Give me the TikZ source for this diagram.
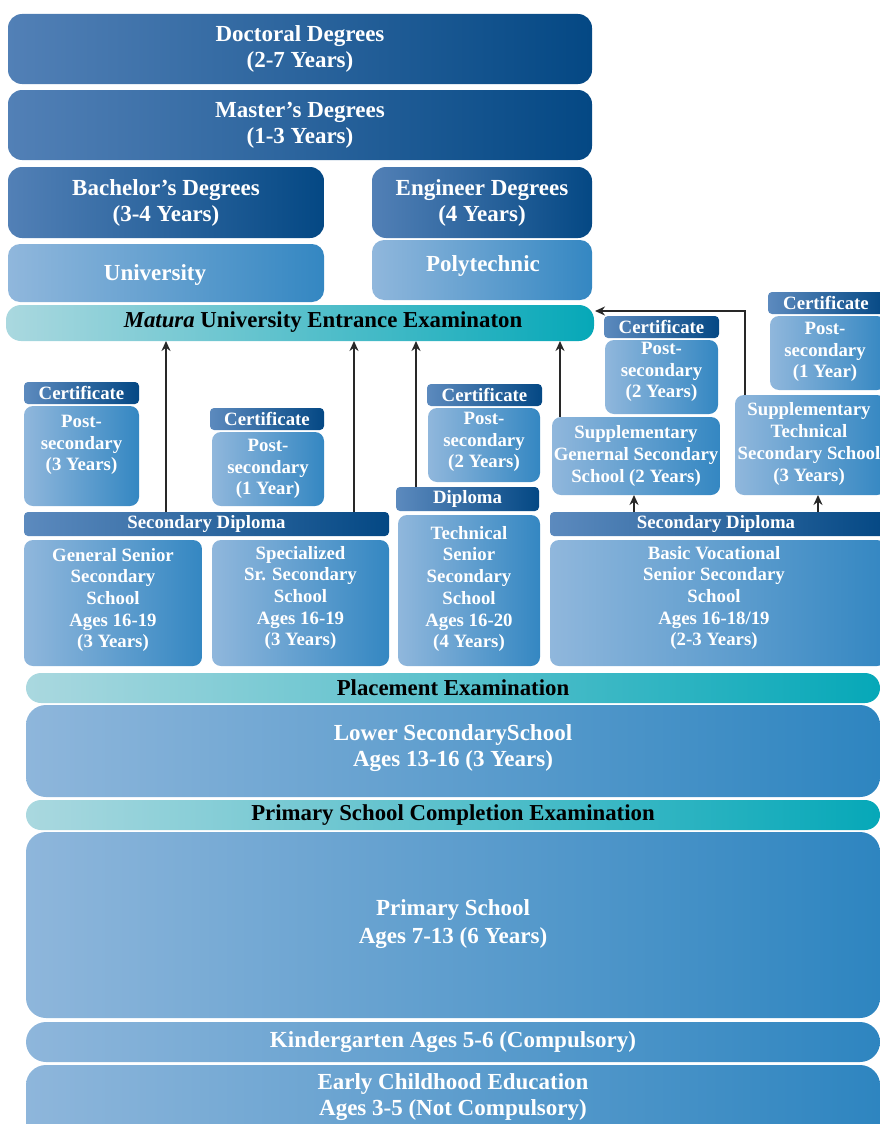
\documentclass[tikz,border=0pt]{standalone}
\usepackage{fontspec}
\setmainfont{Liberation Serif}
\usetikzlibrary{arrows.meta}

% gradient end colours
\definecolor{deepL}{RGB}{82,128,182}
\definecolor{deepR}{RGB}{4,72,132}
\definecolor{tagL}{RGB}{92,138,190}
\definecolor{midL}{RGB}{144,183,220}
\definecolor{midR}{RGB}{52,135,194}
\definecolor{tealL}{RGB}{170,216,223}
\definecolor{tealR}{RGB}{6,168,184}
\definecolor{lowL}{RGB}{142,182,219}
\definecolor{lowR}{RGB}{46,133,192}
\definecolor{wire}{RGB}{40,40,40}

\tikzset{
  base/.style={inner sep=1pt, outer sep=0pt, align=center, text=white},
  degree/.style={base, rounded corners=14pt, left color=deepL, right color=deepR,
    font=\bfseries\fontsize{23}{26}\selectfont},
  school/.style={base, rounded corners=12pt, left color=midL, right color=midR,
    font=\bfseries\fontsize{23}{26}\selectfont},
  tag/.style={base, rounded corners=4pt, left color=tagL, right color=deepR,
    font=\bfseries\fontsize{18.8}{21}\selectfont},
  card/.style={base, rounded corners=9pt, left color=midL, right color=midR,
    font=\bfseries\fontsize{18.8}{21.7}\selectfont},
  cardtext/.style={align=center, text=white, inner sep=0pt,
    font=\bfseries\fontsize{18.8}{21.7}\selectfont},
  tagtext/.style={cardtext, font=\bfseries\fontsize{18.8}{21}\selectfont},
  bigtext/.style={cardtext, font=\bfseries\fontsize{23}{25.5}\selectfont},
  exam/.style={base, rounded corners=15pt, left color=tealL, right color=tealR,
    text=black, font=\bfseries\fontsize{22.8}{25}\selectfont},
  stage/.style={base, rounded corners=20pt, left color=lowL, right color=lowR,
    font=\bfseries\fontsize{23}{25}\selectfont},
  arr/.style={draw=wire, line width=1.8pt, -{Stealth[length=10pt,width=9pt]}},
}

% \blk{style}{x1}{y1}{x2}{y2}{name}{text}: box spanning the given corners
\newcommand\blk[7]{%
  \node[#1, minimum width={(#4)-(#2)}, minimum height={(#5)-(#3)}]
    (#6) at ({((#2)+(#4))/2},{((#3)+(#5))/2}) {#7};}

\begin{document}
\begin{tikzpicture}[x=1pt, y=-1pt]
\useasboundingbox (0,0) rectangle (880,1124);
\clip (0,0) rectangle (880,1124);

% ---- higher education
\blk{degree}{8}{14}{592}{84}{doc}{Doctoral Degrees\\(2-7 Years)}
\blk{degree}{8}{90}{592}{160}{mas}{Master’s Degrees\\(1-3 Years)}
\blk{degree}{8}{167}{324}{238}{bach}{Bachelor’s Degrees\\(3-4 Years)}
\blk{degree}{372}{167}{592}{238}{eng}{Engineer Degrees\\(4 Years)}
\blk{school}{8}{244}{324}{302}{uni}{}
\node[bigtext] at (155,275) {University};
\blk{school}{372}{240}{592}{300}{poly}{}
\node[bigtext] at (483,266) {Polytechnic};
\blk{exam}{6}{305}{594}{341}{matura}{}
\node[cardtext, text=black, font=\bfseries\fontsize{22.8}{25}\selectfont]
  at (323,322) {\textit{Matura} University Entrance Examinaton};

% ---- post-secondary certificates
\blk{tag}{24}{382}{139}{404}{c1}{Certificate}
\blk{card}{24}{406}{139}{506}{ps1}{}
\node[cardtext] at (81.5,445) {Post-\\secondary\\(3 Years)};
\blk{tag}{210}{408}{324}{430}{c2}{Certificate}
\blk{card}{212}{432}{324}{506}{ps2}{Post-\\secondary\\(1 Year)}
\blk{tag}{427}{384}{542}{406}{c3}{Certificate}
\blk{card}{428}{408}{540}{482}{ps3}{}
\node[cardtext] at (484,442) {Post-\\secondary\\(2 Years)};
\blk{tag}{604}{316}{719}{338}{c4}{Certificate}
\blk{card}{605}{340}{718}{414}{ps4}{}
\node[cardtext] at (661.5,372) {Post-\\secondary\\(2 Years)};
\blk{tag}{768}{292}{886}{314}{c5}{}
\node[tagtext] at (826,303) {Certificate};
\blk{card}{770}{316}{886}{390}{ps5}{}
\node[cardtext] at (825,352) {Post-\\secondary\\(1 Year)};

% ---- supplementary schools
\blk{card}{552}{417}{720}{495}{sg}{Supplementary\\Genernal Secondary\\School (2 Years)}
\blk{card}{735}{395}{886}{495}{st}{}
\node[cardtext] at (809,444) {Supplementary\\Technical\\Secondary School\\(3 Years)};

% ---- senior secondary
\blk{tag}{396}{487}{539}{511}{dip}{Diploma}
\blk{tag}{24}{512}{389}{536}{sdl}{Secondary Diploma}
\blk{tag}{550}{512}{886}{536}{sdr}{}
\node[tagtext] at (716,524) {Secondary Diploma};
\blk{card}{24}{540}{202}{666}{gs}{}
\node[cardtext] at (113,600) {General Senior\\Secondary\\School\\Ages 16-19\\(3 Years)};
\blk{card}{212}{540}{389}{666}{sp}{}
\node[cardtext] at (300.5,598) {Specialized\\Sr. Secondary\\School\\Ages 16-19\\(3 Years)};
\blk{card}{398}{515}{540}{666}{ts}{}
\node[cardtext] at (469,589) {Technical\\Senior\\Secondary\\School\\Ages 16-20\\(4 Years)};
\blk{card}{550}{540}{886}{666}{bv}{}
\node[cardtext] at (714,598) {Basic Vocational\\Senior Secondary\\School\\Ages 16-18/19\\(2-3 Years)};

% ---- lower levels
\blk{exam}{26}{673}{880}{703}{place}{Placement Examination}
\blk{stage}{26}{705}{880}{797}{lower}{}
\node[bigtext] at (453,748) {Lower SecondarySchool\\Ages 13-16 (3 Years)};
\blk{exam}{26}{800}{880}{830}{pce}{Primary School Completion Examination}
\blk{stage}{26}{832}{880}{1018}{prim}{}
\node[bigtext, font=\bfseries\fontsize{23}{28}\selectfont] at (453,924) {Primary School\\Ages 7-13 (6 Years)};
\blk{stage}{26}{1022}{880}{1062}{kind}{Kindergarten Ages 5-6 (Compulsory)}
\blk{stage}{26}{1065}{880}{1150}{early}{}
\node[bigtext] at (453,1097) {Early Childhood Education\\Ages 3-5 (Not Compulsory)};

% ---- progression arrows
\coordinate (a1) at (166,512);
\coordinate (a2) at (354,512);
\coordinate (a3) at (416,487);
\coordinate (a4) at (560,417);
\coordinate (a5) at (745,395);
\coordinate (a5end) at (595,311);
\coordinate (a6) at (634,512);
\coordinate (a7) at (818,512);
\draw[arr] (a1) -- (a1 |- matura.south);
\draw[arr] (a2) -- (a2 |- matura.south);
\draw[arr] (a3) -- (a3 |- matura.south);
\draw[arr] (a4) -- (a4 |- matura.south);
\draw[arr] (a5) |- (a5end);
\draw[arr] (a6) -- (a6 |- sg.south);
\draw[arr] (a7) -- (a7 |- st.south);
\end{tikzpicture}
\end{document}
